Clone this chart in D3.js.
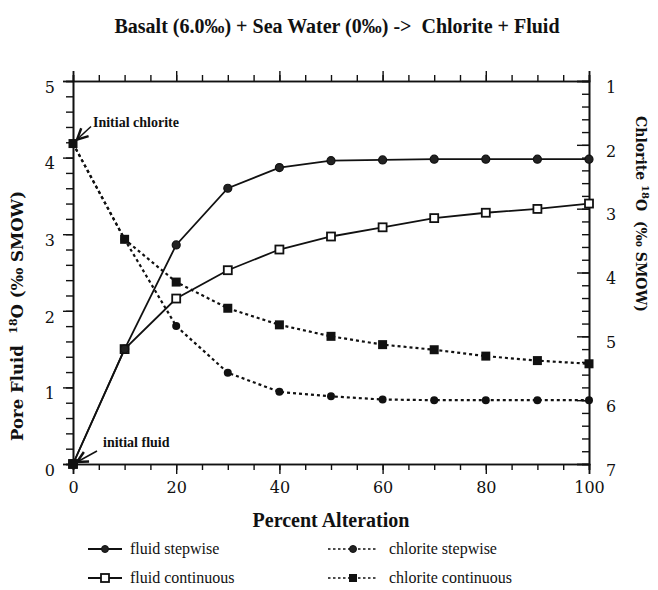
<!DOCTYPE html>
<html>
<head>
<meta charset="utf-8">
<script src="https://cdn.jsdelivr.net/npm/d3@7"></script>
<style>
  body { margin: 0; background: #fff; }
</style>
</head>
<body>
<script>
// percent alteration
var alteration = [0, 10, 20, 30, 40, 50, 60, 70, 80, 90, 100];
// pore fluid d18O (left axis)
var fluidStepwise   = [0, 1.50, 2.86, 3.60, 3.87, 3.96, 3.97, 3.98, 3.98, 3.98, 3.98];
var fluidContinuous = [0, 1.50, 2.16, 2.53, 2.80, 2.97, 3.09, 3.21, 3.28, 3.33, 3.40];
// chlorite d18O (right axis, inverted)
var chloriteStepwise   = [1.98, 3.48, 4.84, 5.57, 5.87, 5.94, 5.99, 6.0, 6.0, 6.0, 6.0];
var chloriteContinuous = [1.98, 3.48, 4.15, 4.56, 4.82, 5.0, 5.13, 5.21, 5.31, 5.38, 5.43];

var xTicks = [0, 20, 40, 60, 80, 100];
var leftTicks = [0, 1, 2, 3, 4, 5];
var rightTicks = [1, 2, 3, 4, 5, 6, 7];

var width = 658, height = 590;
var plotLeft = 73, plotRight = 589, plotTop = 81, plotBottom = 464;
var numFont = "DejaVu Serif";
var textFont = "Liberation Serif";

var svg = d3.select("body").append("svg")
  .attr("width", width)
  .attr("height", height)
  .attr("font-family", textFont)
  .attr("fill", "#111");

var xScale = d3.scaleLinear().domain([0, 100]).range([plotLeft, plotRight]);
var yLeft = d3.scaleLinear().domain([0, 5]).range([plotBottom, plotTop]);
var yRight = d3.scaleLinear().domain([1, 7]).range([plotTop, plotBottom]);

function styleAxis(g) {
  g.select(".domain").attr("stroke", "#111").attr("stroke-width", 1.6);
  g.selectAll(".tick line").attr("stroke", "#111").attr("stroke-width", 1.4);
  g.selectAll("text").attr("font-size", 16).attr("font-family", numFont).attr("fill", "#111");
}

// bottom axis
svg.append("g").attr("transform", "translate(0," + plotBottom + ")")
  .call(d3.axisBottom(xScale).tickValues(d3.range(0, 101, 5)).tickSize(6).tickFormat(""))
  .call(styleAxis);
svg.append("g").attr("transform", "translate(0," + plotBottom + ")")
  .call(d3.axisBottom(xScale).tickValues(xTicks).tickSize(10).tickPadding(8).tickFormat(d3.format("d")))
  .call(styleAxis);

// top axis
svg.append("g").attr("transform", "translate(0," + plotTop + ")")
  .call(d3.axisTop(xScale).tickValues(d3.range(0, 101, 5)).tickSize(6).tickFormat(""))
  .call(styleAxis);
svg.append("g").attr("transform", "translate(0," + plotTop + ")")
  .call(d3.axisTop(xScale).tickValues(xTicks).tickSize(10).tickFormat(""))
  .call(styleAxis);

// left axis
svg.append("g").attr("transform", "translate(" + plotLeft + ",0)")
  .call(d3.axisLeft(yLeft).tickValues(d3.range(0, 5.01, 0.2)).tickSize(7).tickFormat(""))
  .call(styleAxis);
svg.append("g").attr("transform", "translate(" + plotLeft + ",0)")
  .call(d3.axisLeft(yLeft).tickValues(leftTicks).tickSize(10).tickPadding(8).tickFormat(d3.format("d")))
  .call(styleAxis)
  .selectAll("text").attr("dy", "0.7em");

// right axis, ticks inward
svg.append("g").attr("transform", "translate(" + plotRight + ",0)")
  .call(d3.axisRight(yRight).tickValues(d3.range(1, 7.01, 0.2)).tickSize(-7).tickFormat(""))
  .call(styleAxis);
svg.append("g").attr("transform", "translate(" + plotRight + ",0)")
  .call(d3.axisRight(yRight).tickValues(rightTicks).tickSize(-12).tickPadding(17).tickFormat(d3.format("d")))
  .call(styleAxis)
  .selectAll("text").attr("dy", "0.7em");

// lines
var fluidLine = function(vals) {
  return d3.line().x(function(d, i) { return xScale(alteration[i]); })
    .y(function(d) { return yLeft(d); })(vals);
};
var chlLine = function(vals) {
  return d3.line().x(function(d, i) { return xScale(alteration[i]); })
    .y(function(d) { return yRight(d); })(vals);
};

svg.append("path").attr("d", chlLine(chloriteStepwise))
  .attr("fill", "none").attr("stroke", "#111").attr("stroke-width", 2.2).attr("stroke-dasharray", "3,3");
svg.append("path").attr("d", chlLine(chloriteContinuous))
  .attr("fill", "none").attr("stroke", "#111").attr("stroke-width", 2.2).attr("stroke-dasharray", "3,3");
svg.append("path").attr("d", fluidLine(fluidStepwise))
  .attr("fill", "none").attr("stroke", "#111").attr("stroke-width", 1.8);
svg.append("path").attr("d", fluidLine(fluidContinuous))
  .attr("fill", "none").attr("stroke", "#111").attr("stroke-width", 1.8);

// markers
svg.selectAll(".cs").data(chloriteStepwise).enter().append("circle")
  .attr("cx", function(d, i) { return xScale(alteration[i]); })
  .attr("cy", function(d) { return yRight(d); })
  .attr("r", 4).attr("fill", "#111");
svg.selectAll(".cc").data(chloriteContinuous).enter().append("rect")
  .attr("x", function(d, i) { return xScale(alteration[i]) - 4.5; })
  .attr("y", function(d) { return yRight(d) - 4.5; })
  .attr("width", 9).attr("height", 9).attr("fill", "#111");
svg.selectAll(".fc").data(fluidContinuous).enter().append("rect")
  .attr("x", function(d, i) { return xScale(alteration[i]) - 4; })
  .attr("y", function(d) { return yLeft(d) - 4; })
  .attr("width", 8).attr("height", 8).attr("fill", "#fff").attr("stroke", "#111").attr("stroke-width", 1.8);
svg.selectAll(".fs").data(fluidStepwise).enter().append("circle")
  .attr("cx", function(d, i) { return xScale(alteration[i]); })
  .attr("cy", function(d) { return yLeft(d); })
  .attr("r", 4).attr("fill", "#222").attr("stroke", "#111").attr("stroke-width", 1.2);
// origin marker
svg.append("rect")
  .attr("x", xScale(alteration[0]) - 4.5).attr("y", yLeft(fluidStepwise[0]) - 4.5)
  .attr("width", 9).attr("height", 9).attr("fill", "#111");

// arrows
svg.append("defs").append("marker")
  .attr("id", "arr").attr("viewBox", "0 0 10 10").attr("refX", 9).attr("refY", 5)
  .attr("markerWidth", 9).attr("markerHeight", 9).attr("orient", "auto")
  .append("path").attr("d", "M1,1 L9,5 L1,9").attr("fill", "none").attr("stroke", "#111").attr("stroke-width", 1.8);

var c0x = xScale(alteration[0]), c0y = yRight(chloriteStepwise[0]);
svg.append("line").attr("x1", c0x + 18).attr("y1", c0y - 17).attr("x2", c0x + 4).attr("y2", c0y - 4)
  .attr("stroke", "#111").attr("stroke-width", 1.5).attr("marker-end", "url(#arr)");
svg.append("text").attr("x", c0x + 20).attr("y", c0y - 17)
  .attr("font-size", 14).attr("font-weight", "bold").text("Initial chlorite");

var f0x = xScale(alteration[0]), f0y = yLeft(fluidStepwise[0]);
svg.append("line").attr("x1", f0x + 24).attr("y1", f0y - 13).attr("x2", f0x + 4).attr("y2", f0y - 2)
  .attr("stroke", "#111").attr("stroke-width", 1.5).attr("marker-end", "url(#arr)");
svg.append("text").attr("x", f0x + 30).attr("y", f0y - 17)
  .attr("font-size", 14).attr("font-weight", "bold").text("initial fluid");

// titles
svg.append("text").attr("x", 337).attr("y", 33).attr("text-anchor", "middle")
  .attr("font-size", 20).attr("font-weight", "bold").style("white-space", "pre")
  .text("Basalt (6.0\u2030) + Sea Water (0\u2030) ->  Chlorite + Fluid");

svg.append("text").attr("x", (plotLeft + plotRight) / 2).attr("y", 527).attr("text-anchor", "middle")
  .attr("font-size", 20).attr("font-weight", "bold").text("Percent Alteration");

var lt = svg.append("text").attr("transform", "translate(23,316) rotate(-90)")
  .attr("text-anchor", "middle").attr("font-size", 16.5).attr("font-weight", "bold")
  .attr("font-family", numFont).style("white-space", "pre");
lt.append("tspan").text("Pore Fluid  ");
lt.append("tspan").attr("font-size", 11).attr("dy", -6).text("18");
lt.append("tspan").attr("dy", 6).text("O (\u2030 SMOW)");

var rt = svg.append("text").attr("transform", "translate(636,214) rotate(90)")
  .attr("text-anchor", "middle").attr("font-size", 14).attr("font-weight", "bold")
  .attr("font-family", numFont).style("white-space", "pre");
rt.append("tspan").text("Chlorite ");
rt.append("tspan").attr("font-size", 10).attr("dy", -6).text("18");
rt.append("tspan").attr("dy", 6).text("O  (\u2030 SMOW)");

// legend
var legendItems = ["fluid stepwise", "fluid continuous", "chlorite stepwise", "chlorite continuous"];
var legendPos = [[88, 549], [88, 578], [328, 549], [328, 578]];
legendItems.forEach(function(name, i) {
  var p = legendPos[i];
  var g = svg.append("g").attr("transform", "translate(" + p[0] + "," + p[1] + ")");
  var dashed = i >= 2;
  g.append("line").attr("x1", 0).attr("x2", dashed ? 50 : 34).attr("y1", 0).attr("y2", 0)
    .attr("stroke", "#111").attr("stroke-width", dashed ? 1.6 : 1.8)
    .attr("stroke-dasharray", dashed ? "2.5,2.5" : null);
  var cx = dashed ? 25 : 17;
  if (i === 0 || i === 2) {
    g.append("circle").attr("cx", cx).attr("cy", 0).attr("r", 3.5).attr("fill", "#222").attr("stroke", "#111");
  } else if (i === 1) {
    g.append("rect").attr("x", cx - 4).attr("y", -4).attr("width", 8).attr("height", 8)
      .attr("fill", "#fff").attr("stroke", "#111").attr("stroke-width", 1.8);
  } else {
    g.append("rect").attr("x", cx - 4).attr("y", -4).attr("width", 8).attr("height", 8).attr("fill", "#111");
  }
  g.append("text").attr("x", dashed ? 61 : 42).attr("y", 5).attr("font-size", 16).text(name);
});
</script>
</body>
</html>
